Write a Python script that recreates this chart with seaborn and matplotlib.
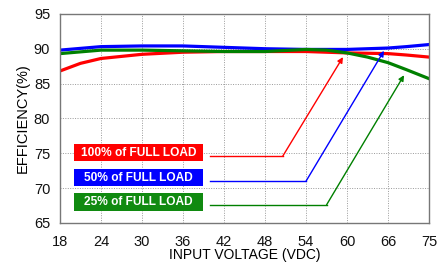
import matplotlib
matplotlib.use("Agg")
import matplotlib.pyplot as plt
from matplotlib.patches import Rectangle
import numpy as np
import pandas as pd
import seaborn as sns

# tick voltages (axis is evenly spaced per tick, last interval 66->75)
xticks = [18, 24, 30, 36, 42, 48, 54, 60, 66, 75]

volt_100 = [18, 21, 24, 30, 36, 42, 48, 54, 60, 66, 70, 75]
eff_100 = [86.8, 87.9, 88.6, 89.2, 89.5, 89.6, 89.6, 89.6, 89.4, 89.3, 89.1, 88.8]

volt_50 = [18, 24, 30, 36, 42, 48, 54, 60, 66, 70, 75]
eff_50 = [89.8, 90.3, 90.4, 90.4, 90.2, 90.0, 89.9, 89.9, 90.1, 90.3, 90.6]

volt_25 = [18, 24, 30, 36, 42, 48, 54, 57, 60, 63, 66, 70, 75]
eff_25 = [89.3, 89.8, 89.8, 89.7, 89.6, 89.6, 89.9, 89.8, 89.4, 88.8, 88.0, 87.0, 85.7]

labels = ["100% of FULL LOAD", "50% of FULL LOAD", "25% of FULL LOAD"]
colors = ["#ff0000", "#0000ff", "#008000"]
box_colors = ["#ff0000", "#0000ff", "#108a10"]

# leader lines: level, knee voltage, arrow tip
lead_level = [74.6, 71.0, 67.6]
lead_knee = [50.6, 54.0, 57.0]
lead_tip_v = [59.4, 65.4, 69.5]
lead_tip_e = [88.8, 89.7, 86.2]
lead_start_v = 40.0
box_center = [75.1, 71.5, 68.0]


def pos(v):
    return np.interp(v, xticks, np.arange(len(xticks)))


plt.rcParams['font.family'] = ['Liberation Sans', 'DejaVu Sans']
fig = plt.figure(figsize=(4.47, 2.62), dpi=100)
ax = fig.add_axes([0.134, 0.149, 0.826, 0.798])

frames = []
for lab, v, e in zip(labels, [volt_100, volt_50, volt_25], [eff_100, eff_50, eff_25]):
    frames.append(pd.DataFrame({"x": pos(v), "eff": e, "load": lab}))
df = pd.concat(frames)
sns.lineplot(data=df, x="x", y="eff", hue="load", palette=colors, linewidth=2.3,
             legend=False, ax=ax, sort=True)

for i in range(3):
    x0 = pos(lead_start_v)
    xk = pos(lead_knee[i])
    ax.plot([x0, xk], [lead_level[i], lead_level[i]], color=colors[i], lw=1.0)
    ax.annotate("", xy=(pos(lead_tip_v[i]), lead_tip_e[i]), xytext=(xk, lead_level[i]),
                arrowprops=dict(arrowstyle="-|>", color=colors[i], lw=1.0,
                                mutation_scale=8, shrinkA=0, shrinkB=0))
    ax.add_patch(Rectangle((0.34, box_center[i] - 1.25), 3.15, 2.5,
                           fc=box_colors[i], ec="none", zorder=3))
    ax.text(0.34 + 3.15 / 2, box_center[i], labels[i], color="white",
            fontsize=8.6, fontweight="bold", ha="center", va="center", zorder=4)

ax.set_xlim(0, len(xticks) - 1)
ax.set_ylim(65, 95)
ax.set_xticks(np.arange(len(xticks)))
ax.set_xticklabels([str(t) for t in xticks])
ax.set_yticks(np.arange(65, 96, 5))
ax.grid(True, color="#999999", linestyle=(0, (1, 1.5)), linewidth=0.7)
ax.set_axisbelow(True)
for s in ax.spines.values():
    s.set_color("#777777")
    s.set_linewidth(1.0)
ax.tick_params(axis="x", length=0, labelsize=10.5, pad=9, colors="#111111")
ax.tick_params(axis="y", length=0, labelsize=10.5, pad=7, colors="#111111")
ax.set_xlabel("INPUT VOLTAGE (VDC)", fontsize=10, labelpad=-1)
ax.set_ylabel("EFFICIENCY(%)", fontsize=10.5, labelpad=3)

fig.savefig("out.png", dpi=100)
